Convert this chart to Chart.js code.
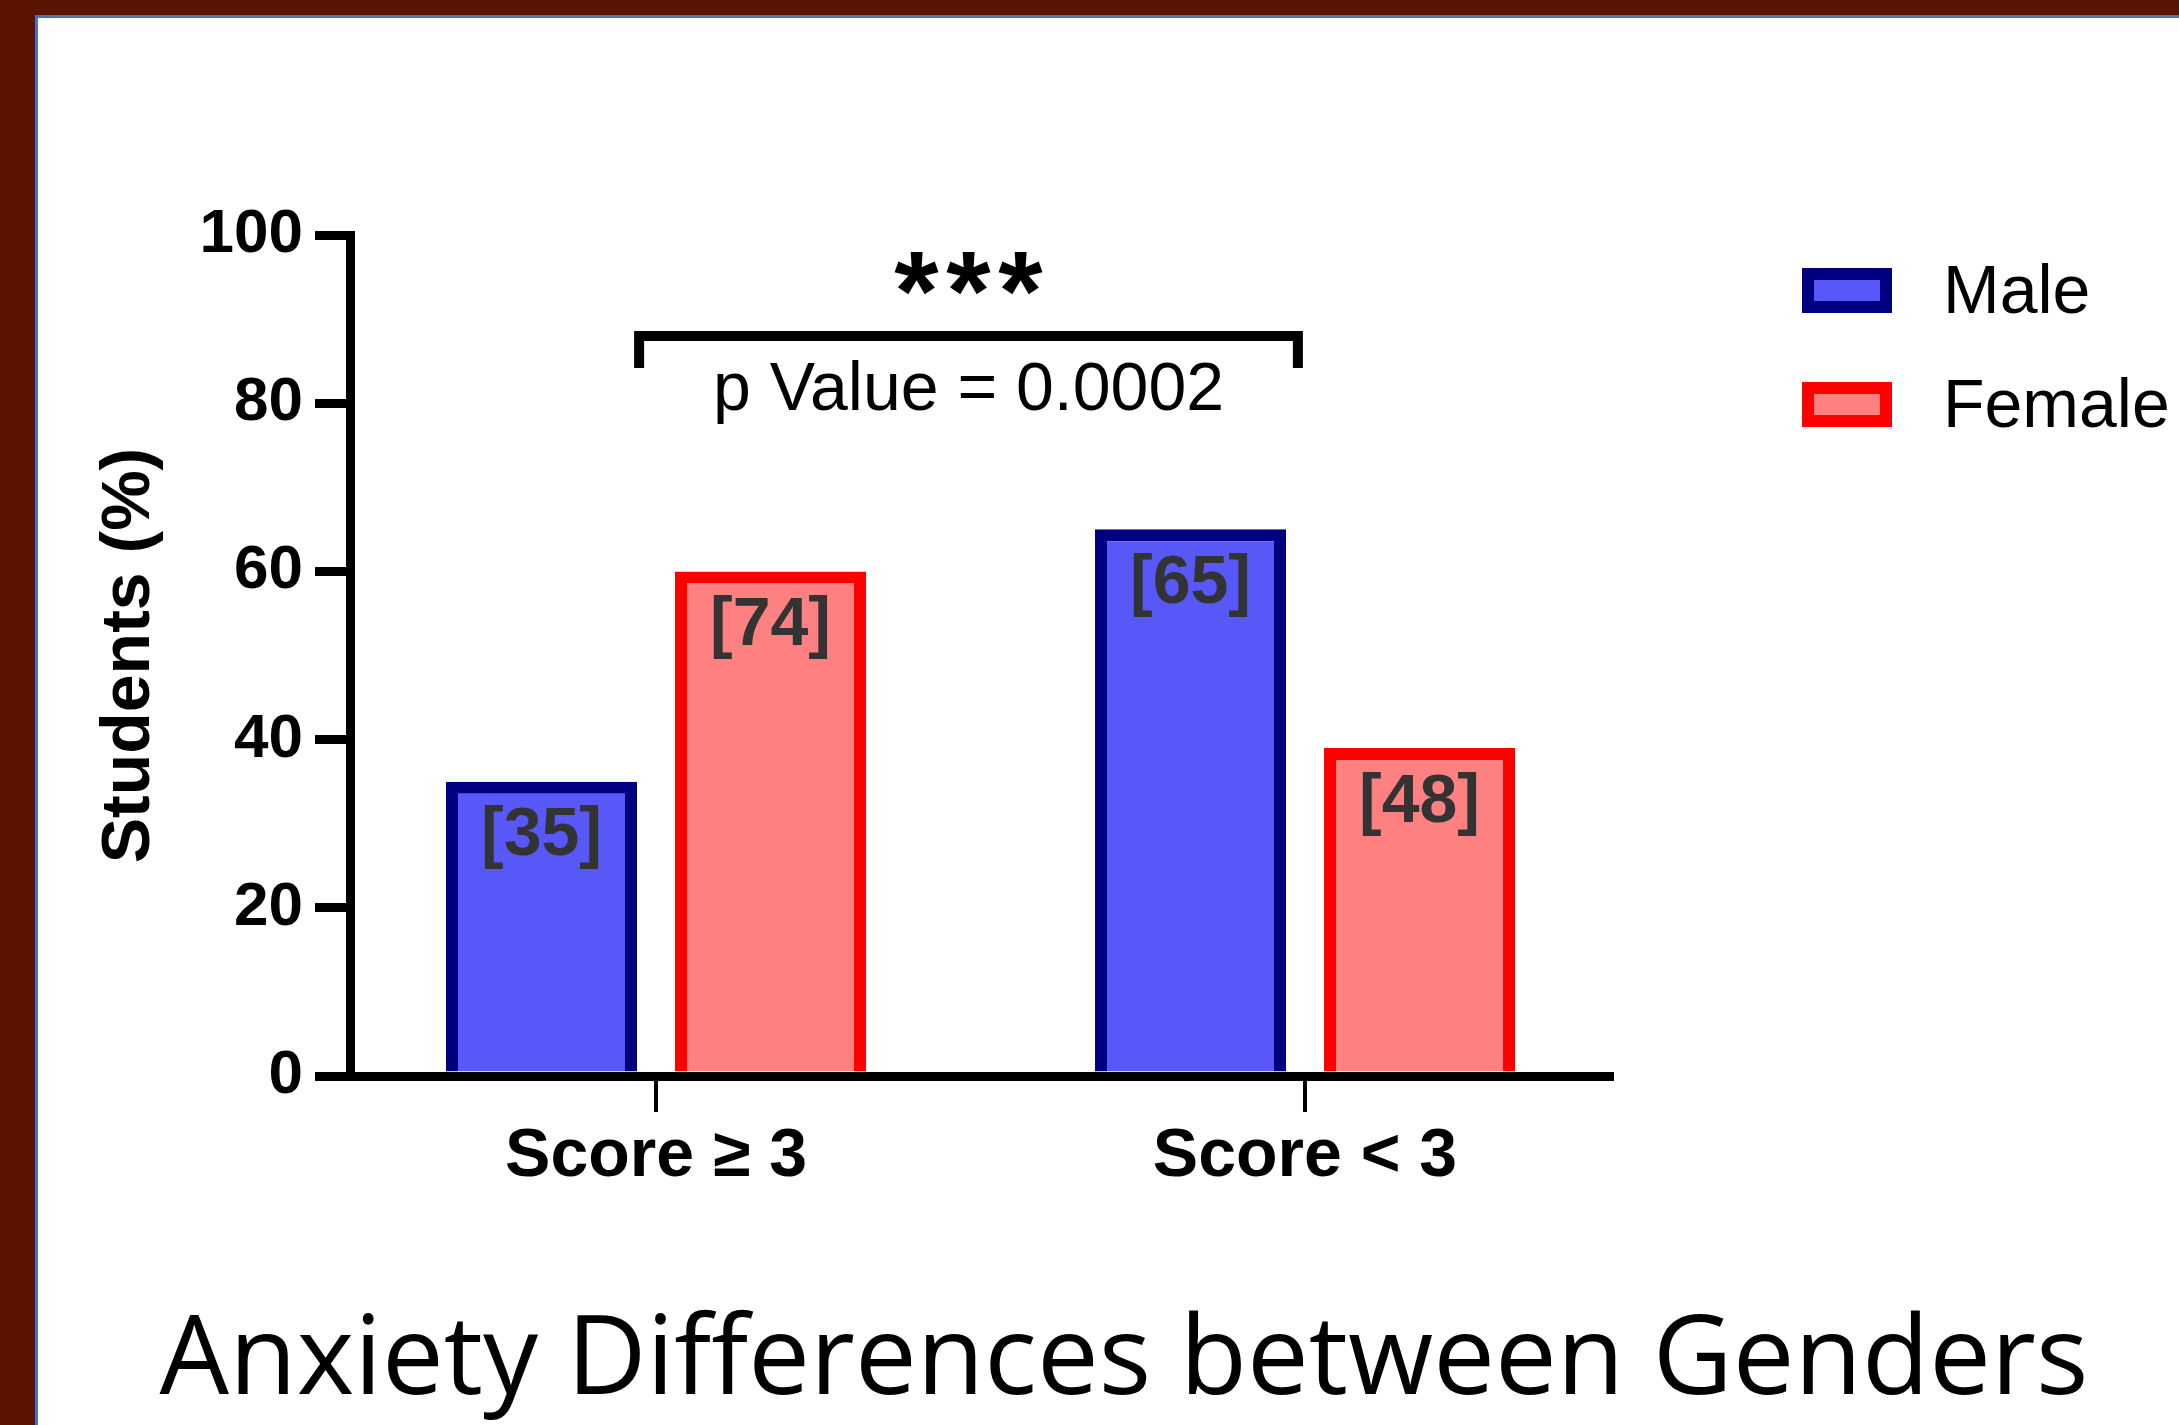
<!DOCTYPE html>
<html>
<head>
<meta charset="utf-8">
<title>Anxiety Differences between Genders</title>
<script src="https://cdn.jsdelivr.net/npm/chart.js@4.4.1/dist/chart.umd.min.js"></script>
<style>
  html, body { margin: 0; padding: 0; width: 2179px; height: 1425px; overflow: hidden; background: #5b1300; }
  #panel {
    position: absolute; left: 35px; top: 15px; width: 2300px; height: 1500px;
    background: #ffffff; border-left: 3px solid #4472c4; border-top: 3px solid #4472c4;
  }
  #chart { position: absolute; left: 0; top: 0; }
</style>
</head>
<body>
<div id="panel"></div>
<canvas id="chart" width="2179" height="1425"></canvas>
<script>
// ---- data ----
const categories = ['Score \u2265 3', 'Score < 3'];
const seriesNames = ['Male', 'Female'];
const malePercent = [35, 65];     // % of male students
const femalePercent = [60, 39];   // % of female students
const maleCounts = [35, 65];      // number of students, shown in brackets
const femaleCounts = [74, 48];
const significanceStars = '***';
const significanceLabel = 'p Value = 0.0002';
const chartTitle = 'Anxiety Differences between Genders';

const FONT = "'Liberation Sans', Arial, Helvetica, sans-serif";
Chart.defaults.font.family = FONT;
Chart.defaults.color = '#000';

const toPoints = values => values.map((v, i) => ({ x: i, y: v }));

// Bracket counts, significance bracket, legend and caption
const annotations = {
  id: 'annotations',
  afterDraw(chart, args, opts) {
    const ctx = chart.ctx;
    const xs = chart.scales.x;
    const ys = chart.scales.y;
    const area = chart.chartArea;
    ctx.save();

    // counts inside the bars
    ctx.font = `bold ${opts.countFontSize}px ${FONT}`;
    ctx.fillStyle = opts.countColor;
    ctx.textAlign = 'center';
    ctx.textBaseline = 'middle';
    chart.data.datasets.forEach((ds, di) => {
      chart.getDatasetMeta(di).data.forEach((bar, i) => {
        ctx.fillText(`[${ds.counts[i]}]`, bar.x, bar.y + opts.countOffset);
      });
    });

    // significance bracket between the groups
    const bx1 = xs.getPixelForValue(opts.bracket.from);
    const bx2 = xs.getPixelForValue(opts.bracket.to);
    const byTop = ys.getPixelForValue(opts.bracket.top);
    const byEnd = ys.getPixelForValue(opts.bracket.end);
    ctx.strokeStyle = '#000';
    ctx.lineWidth = opts.bracket.width;
    ctx.lineJoin = 'miter';
    ctx.lineCap = 'butt';
    ctx.beginPath();
    ctx.moveTo(bx1, byEnd);
    ctx.lineTo(bx1, byTop);
    ctx.lineTo(bx2, byTop);
    ctx.lineTo(bx2, byEnd);
    ctx.stroke();

    const mid = (bx1 + bx2) / 2;
    ctx.fillStyle = '#000';
    ctx.textAlign = 'center';
    ctx.textBaseline = 'alphabetic';
    // asterisks, spaced apart
    ctx.font = `bold ${opts.starFontSize}px ${FONT}`;
    const stars = Array.from(significanceStars);
    stars.forEach((s, i) => {
      const sx = mid + (i - (stars.length - 1) / 2) * opts.starPitch;
      ctx.fillText(s, sx, byTop + opts.starBaseline);
    });
    ctx.font = `${opts.pFontSize}px ${FONT}`;
    ctx.fillText(significanceLabel, mid, byTop + opts.pBaseline);

    // legend
    const lg = opts.legend;
    const lx = area.right + lg.offsetX;
    chart.data.datasets.forEach((ds, i) => {
      const y = area.top + lg.offsetY + i * lg.spacing;
      ctx.fillStyle = ds.backgroundColor;
      ctx.fillRect(lx, y, lg.boxWidth, lg.boxHeight);
      ctx.lineWidth = ds.borderWidth;
      ctx.strokeStyle = ds.borderColor;
      ctx.strokeRect(lx, y, lg.boxWidth, lg.boxHeight);
      ctx.fillStyle = '#000';
      ctx.font = `${lg.fontSize}px ${FONT}`;
      ctx.textAlign = 'left';
      ctx.textBaseline = 'alphabetic';
      ctx.fillText(ds.label, lx + lg.textGap, y + lg.baseline);
    });

    // caption below the chart
    ctx.font = `${opts.caption.fontSize}px 'Open Sans', 'Noto Sans', sans-serif`;
    ctx.fillStyle = '#000';
    ctx.textAlign = 'center';
    ctx.fillText(chartTitle, opts.caption.x, opts.caption.y);

    ctx.restore();
  }
};

const barStyle = { borderWidth: 12, categoryPercentage: 0.7057, barPercentage: 0.834 };

new Chart(document.getElementById('chart'), {
  type: 'bar',
  data: {
    datasets: [
      Object.assign({ label: seriesNames[0], data: toPoints(malePercent), counts: maleCounts,
        backgroundColor: '#5858f8', borderColor: '#000080' }, barStyle),
      Object.assign({ label: seriesNames[1], data: toPoints(femalePercent), counts: femaleCounts,
        backgroundColor: '#ff8080', borderColor: '#ff0000' }, barStyle)
    ]
  },
  options: {
    responsive: false,
    animation: false,
    events: [],
    layout: { padding: { left: 0, top: 235, right: 567, bottom: 223 } },
    plugins: {
      legend: { display: false },
      tooltip: { enabled: false },
      title: { display: false },
      annotations: {
        countFontSize: 68, countColor: '#333333', countOffset: 55,
        bracket: { from: -0.026, to: 0.989, top: 88, end: 84.2, width: 10 },
        starFontSize: 114, starPitch: 52, starBaseline: -6,
        pFontSize: 68, pBaseline: 74,
        legend: { offsetX: 196, offsetY: 39, spacing: 114, boxWidth: 78, boxHeight: 33,
                  fontSize: 68, textGap: 135, baseline: 39 },
        caption: { fontSize: 110, x: 1124, y: 1394 }
      }
    },
    scales: {
      x: {
        type: 'linear',
        min: -0.4715,
        max: 1.473,
        bounds: 'data',
        offset: false,
        z: 1,
        afterBuildTicks: scale => { scale.ticks = categories.map((_, i) => ({ value: i })); },
        afterFit: scale => { scale.height = 126; },
        ticks: {
          callback: v => categories[v],
          autoSkip: false, maxRotation: 0, minRotation: 0,
          padding: 4, color: '#000',
          font: { size: 68, weight: 'bold' }
        },
        grid: { display: true, drawOnChartArea: false, offset: false,
                tickLength: 36, tickWidth: 4, lineWidth: 4, color: '#000' },
        border: { display: true, width: 9, color: '#000' }
      },
      y: {
        min: 0,
        max: 100,
        afterFit: scale => { scale.width = 350; },
        ticks: { stepSize: 20, padding: 12, color: '#000', font: { size: 62, weight: 'bold' } },
        grid: { drawOnChartArea: false, tickLength: 35, tickWidth: 9, lineWidth: 9, color: '#000' },
        border: { display: true, width: 9, color: '#000' },
        title: { display: true, text: 'Students (%)', color: '#000',
                 font: { size: 68, weight: 'bold' }, padding: { top: 89, bottom: 0 } }
      }
    }
  },
  plugins: [annotations]
});
</script>
</body>
</html>
